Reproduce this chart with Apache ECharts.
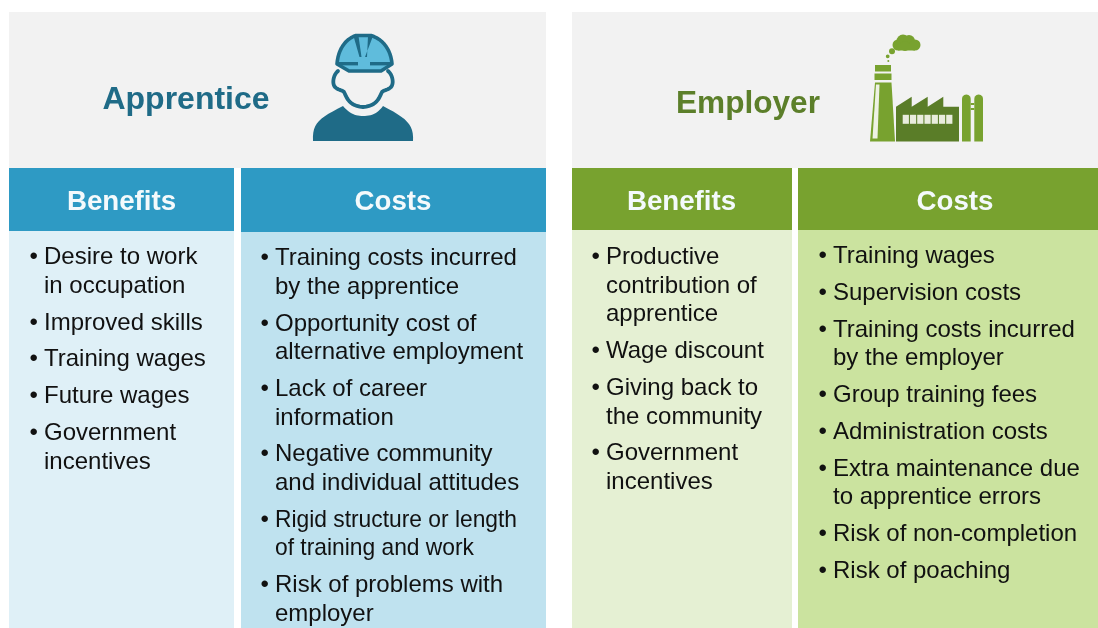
<!DOCTYPE html>
<html><head><meta charset="utf-8">
<style>html,body{margin:0;padding:0;background:#fff}#c{width:1098px;height:628px}</style>
<script src="https://cdn.jsdelivr.net/npm/echarts@6/dist/echarts.min.js"></script>
</head><body><div id="c"></div>
<script>
const apprenticeTitle = 'Apprentice';
const employerTitle = 'Employer';
const columnTitles = ['Benefits', 'Costs'];
const apprenticeBenefits = [['Desire to work','in occupation'],['Improved skills'],['Training wages'],['Future wages'],['Government','incentives']];
const apprenticeCosts = [['Training costs incurred','by the apprentice'],['Opportunity cost of','alternative employment'],['Lack of career','information'],['Negative community','and individual attitudes'],['Rigid structure or length','of training and work'],['Risk of problems with','employer']];
const employerBenefits = [['Productive','contribution of','apprentice'],['Wage discount'],['Giving back to','the community'],['Government','incentives']];
const employerCosts = [['Training wages'],['Supervision costs'],['Training costs incurred','by the employer'],['Group training fees'],['Administration costs'],['Extra maintenance due','to apprentice errors'],['Risk of non-completion'],['Risk of poaching']];

const FONT = '"Liberation Sans", Arial, sans-serif';
const els = [];
const rect = (x,y,w,h,fill) => els.push({type:'rect',silent:true,shape:{x,y,width:w,height:h},style:{fill}});
const text = (x,y,t,size,fill,weight,align,sx) => els.push({type:'text',silent:true,x,y,scaleX:sx||1,style:{text:t,fill,font:`${weight||'normal'} ${size}px ${FONT}`,textAlign:align||'left',textVerticalAlign:'middle'}});
const poly = (points,fill) => els.push({type:'polygon',silent:true,shape:{points},style:{fill}});
const circ = (cx,cy,r,fill) => els.push({type:'circle',silent:true,shape:{cx,cy,r},style:{fill}});
// flatten a small M/L/C outline into points for polygon / polyline shapes
function outline(d){
  const t=d.match(/[MLC]|-?[\d.]+/g); const pts=[]; let i=0, cur=null;
  while(i<t.length){
    const c=t[i++];
    if(c==='M'||c==='L'){cur=[+t[i],+t[i+1]];i+=2;pts.push(cur);}
    else if(c==='C'){
      const a=[+t[i],+t[i+1]],b=[+t[i+2],+t[i+3]],e=[+t[i+4],+t[i+5]];i+=6;
      for(let k=1;k<=12;k++){const u=k/12,v=1-u;
        pts.push([v*v*v*cur[0]+3*v*v*u*a[0]+3*v*u*u*b[0]+u*u*u*e[0],v*v*v*cur[1]+3*v*v*u*a[1]+3*v*u*u*b[1]+u*u*u*e[1]]);}
      cur=e;
    }
  }
  return pts;
}
const shape = (d,fill,stroke,lw) => els.push({type:'polygon',silent:true,shape:{points:outline(d)},style:{fill,stroke:stroke||null,lineWidth:lw||0,lineJoin:'round'}});
const line = (d,stroke,lw) => els.push({type:'polyline',silent:true,shape:{points:outline(d)},style:{fill:'none',stroke,lineWidth:lw,lineCap:'round',lineJoin:'round'}});

const BLUE_D='#1f6b87', BLUE_H='#2e9ac4', BLUE_L='#5fbcdc';
const GREEN_T='#5c7f2a', GREEN_H='#78a22f', GREEN_D='#5a7d28';
const TEXT='#111111';
const CONDENSED=['Rigid structure or length','of training and work'];

rect(9,12,537,156,'#f2f2f2');
rect(572,12,526,156,'#f2f2f2');

function column(x,w,headH,headFill,bodyFill,title,items,bulletX,textX,startY,titleX){
  rect(x,168,w,headH,headFill);
  rect(x,168+headH,w,628-168-headH,bodyFill);
  text(titleX,202,title,27.7,'#f4fafc','bold','center');
  let y=startY;
  items.forEach(lines=>{
    text(bulletX,y,'•',24,TEXT);
    lines.forEach(l=>{ text(textX,y,l,24,TEXT,'normal','left',CONDENSED.includes(l)?0.95:1); y+=28.6; });
    y+=8.2;
  });
}
column(9,225,63,BLUE_H,'#dff0f7',columnTitles[0],apprenticeBenefits,29.5,44,257.5,121.5);
column(241,305,64,BLUE_H,'#bfe2ef',columnTitles[1],apprenticeCosts,260.5,275,258.5,393);
column(572,220,62,GREEN_H,'#e5f0d3',columnTitles[0],employerBenefits,591.5,606,257.5,681.5);
column(798,300,62,GREEN_H,'#cbe39f',columnTitles[1],employerCosts,818.5,833,256.5,955);

text(186,100,apprenticeTitle,32,BLUE_D,'bold','center');
text(748,104,employerTitle,31.6,GREEN_T,'bold','center');

// Apprentice icon
shape('M313 141 C312 122 320 118 343 106 C350 114 356 116 363 116 C371 116 377 114 383 106 C406 118 414 124 413 141 L313 141',BLUE_D);
line('M338 71 C333 75 332 84 335 87 C338 90 342 90 344 92 C347 98 349 106 363 107 C377 106 379 98 382 92 C384 90 388 90 391 87 C394 84 393 75 388 71',BLUE_D,3.8);
shape('M356 35.5 L371 35.5 C383 39 391 50 392 64 L381 71 L349 71 L337 64 C338 50 345 39 356 35.5',BLUE_L,BLUE_D,3.6);
poly([[353.5,36],[358.5,36],[361.5,57],[359.5,57]],BLUE_D);
poly([[373,36],[368,36],[367,57],[365,57]],BLUE_D);
rect(337,62,21,3.4,BLUE_D);
rect(370,62,22,3.4,BLUE_D);

// Employer icon
poly([[875,82.5],[891.5,82.5],[895,141.5],[870,141.5]],GREEN_H);
poly([[876,84.5],[879.5,84.5],[877.5,138.5],[872.5,138.5]],'#eef2e4');
rect(875,65,16,6.5,GREEN_H);
rect(874.5,73.5,17,6.5,GREEN_H);
[[898,45,5.5],[903,41,6.5],[909,41,6],[915,45,5.5],[905,46,5]].forEach(c=>circ(c[0],c[1],c[2],GREEN_H));
rect(898,44,17,6.5,GREEN_H);
circ(892,51.3,3,GREEN_H);
circ(887.7,56.3,1.9,GREEN_H);
circ(888.3,61,1,GREEN_H);
poly([[896,106.7],[911.7,96.7],[911.7,106.7],[927.7,96.7],[927.7,106.7],[943.3,96.7],[943.3,106.7],[959,106.7],[959,141.5],[896,141.5]],GREEN_D);
for(let i=0;i<7;i++) rect(902.7+i*7.25,114.8,6.2,9,'#e8ecdc');
shape('M962 141.5 L962 99 C962 93 970.7 93 970.7 99 L970.7 141.5 L962 141.5',GREEN_H);
shape('M974.3 141.5 L974.3 99 C974.3 93 983 93 983 99 L983 141.5 L974.3 141.5',GREEN_H);
rect(970.7,103,3.6,2,GREEN_H);
rect(970.7,108,3.6,2,GREEN_H);

const chart = echarts.init(document.getElementById('c'),null,{renderer:'canvas'});
chart.setOption({animation:false,backgroundColor:'#fff',graphic:{elements:els}});
</script></body></html>
